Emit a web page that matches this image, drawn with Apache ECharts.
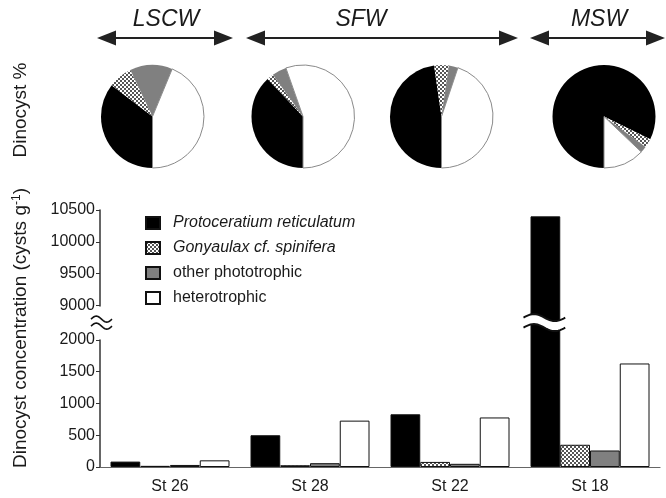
<!DOCTYPE html>
<html><head><meta charset="utf-8">
<script src="https://cdn.jsdelivr.net/npm/echarts@6/dist/echarts.min.js"></script>
<style>html,body{margin:0;padding:0;background:#fff}#c{width:666px;height:498px}</style>
</head><body><div id="c"></div>
<script>
// ---- data ----
const stations = ['St 26', 'St 28', 'St 22', 'St 18'];
const seriesNames = ['Protoceratium reticulatum', 'Gonyaulax cf. spinifera', 'other phototrophic', 'heterotrophic'];
const protoceratium = [85, 500, 830, 10400];
const gonyaulax = [18, 28, 80, 350];
const otherPhototrophic = [32, 60, 50, 260];
const heterotrophic = [105, 730, 780, 1630];
const waterMasses = ['LSCW', 'SFW', 'MSW'];
const axisBreak = [2000, 9000];
const yMax = 10500;
const yStep = 500;

// ---- styles / layout ----
const FONT = "'Liberation Sans', Arial, sans-serif";
const TXT = '#1a1a1a';
function checker() {
  const c = document.createElement('canvas');
  c.width = 4; c.height = 4;
  const g = c.getContext('2d');
  g.fillStyle = '#fff'; g.fillRect(0, 0, 4, 4);
  g.fillStyle = '#555'; g.fillRect(0, 0, 2, 2); g.fillRect(2, 2, 2, 2);
  return c;
}
const pat = { image: checker(), repeat: 'repeat' };
const fills = ['#000', pat, '#808080', '#fff'];
const values = [protoceratium, gonyaulax, otherPhototrophic, heterotrophic];
const pieCenters = [152.5, 303, 441.5, 604];
const pieY = 116.5, pieR = 51.5;
const massLayout = [
  { text: 166, x1: 97, x2: 233 },
  { text: 361, x1: 246, x2: 518 },
  { text: 599, x1: 530, x2: 665 }
];

const chart = echarts.init(document.getElementById('c'), null, { renderer: 'canvas' });

const barSeries = seriesNames.map((n, k) => ({
  type: 'bar', name: n, data: values[k],
  barGap: '0%', barCategoryGap: '15%',
  itemStyle: { color: fills[k], borderColor: '#111', borderWidth: 1 },
  silent: true, z: 2
}));

const pieSeries = stations.map((s, i) => ({
  type: 'pie', center: [pieCenters[i], pieY], radius: pieR,
  startAngle: -90, clockwise: true, silent: true, label: { show: false },
  labelLine: { show: false }, legendHoverLink: false,
  data: seriesNames.map((n, k) => ({
    name: n, value: values[k][i],
    itemStyle: { color: fills[k], borderColor: k === 3 ? '#8a8a8a' : 'transparent', borderWidth: k === 3 ? 1 : 0 }
  }))
}));

const graphics = [];
waterMasses.forEach((m, i) => {
  const L = massLayout[i], y = 38;
  graphics.push({ type: 'text', x: L.text, y: 20, style: { text: m, font: 'italic 23px ' + FONT, fill: TXT, align: 'center', verticalAlign: 'middle' } });
  graphics.push({ type: 'line', shape: { x1: L.x1 + 10, y1: y, x2: L.x2 - 10, y2: y }, style: { stroke: '#222', lineWidth: 2 } });
  graphics.push({ type: 'polygon', shape: { points: [[L.x1, y], [L.x1 + 19, y - 7.5], [L.x1 + 19, y + 7.5]] }, style: { fill: '#222' } });
  graphics.push({ type: 'polygon', shape: { points: [[L.x2, y], [L.x2 - 19, y - 7.5], [L.x2 - 19, y + 7.5]] }, style: { fill: '#222' } });
});
graphics.push({ type: 'text', x: 21, y: 110, rotation: Math.PI / 2,
  style: { text: 'Dinocyst %', font: '19px ' + FONT, fill: TXT, align: 'center', verticalAlign: 'middle' } });
graphics.push({ type: 'text', x: 21, y: 328, rotation: Math.PI / 2,
  style: { text: '{a|Dinocyst concentration (cysts g}{s|-1}{a|)}', align: 'center', verticalAlign: 'middle',
    rich: { a: { font: '19px ' + FONT, fill: TXT, lineHeight: 22 }, s: { font: '12px ' + FONT, fill: TXT, padding: [0, 0, 8, 0], lineHeight: 22 } } } });

chart.setOption({
  animation: false,
  backgroundColor: '#fff',
  textStyle: { fontFamily: FONT },
  grid: { left: 100, right: 6, top: 210, bottom: 31, containLabel: false },
  legend: {
    orient: 'vertical', left: 145, top: 215, padding: 0, itemWidth: 14, itemHeight: 12, itemGap: 9,
    icon: 'rect', selectedMode: false, data: seriesNames,
    formatter: n => n.startsWith('Proto') || n.startsWith('Gony') ? '{i|' + n + '}' : '{r|' + n + '}',
    textStyle: { fontSize: 16, color: TXT, padding: [0, 0, 0, 8], lineHeight: 16,
      rich: { i: { fontStyle: 'italic', fontSize: 16, color: TXT, fontFamily: FONT }, r: { fontSize: 16, color: TXT, fontFamily: FONT } } }
  },
  xAxis: {
    type: 'category', data: stations,
    axisLine: { lineStyle: { color: '#666', width: 1.2 } },
    axisTick: { show: false },
    axisLabel: { fontSize: 16, color: TXT, margin: 12 }
  },
  yAxis: {
    type: 'value', min: 0, max: yMax, interval: yStep,
    breaks: [{ start: axisBreak[0], end: axisBreak[1], gap: '13.5%' }],
    breakArea: { show: false },
    splitLine: { show: false },
    axisLine: { show: true, lineStyle: { color: '#333', width: 1.5 } },
    axisTick: { show: true, length: 4, lineStyle: { color: '#333' } },
    axisLabel: { fontSize: 16, color: TXT, margin: 5, formatter: v => String(v) }
  },
  graphic: graphics,
  series: [...barSeries, ...pieSeries]
});

// break markers drawn at the axis break position (sampled sine waves)
function wavePts(x0, x1, y, a) {
  const pts = [];
  const n = 24;
  for (let j = 0; j <= n; j++) {
    const t = j / n;
    pts.push([x0 + (x1 - x0) * t, y - a * Math.sin(2 * Math.PI * t)]);
  }
  return pts;
}
function breakMark(x0, x1, yc, sep, a, lw) {
  const top = wavePts(x0, x1, yc - sep / 2, a);
  const bot = wavePts(x0, x1, yc + sep / 2, a);
  return [
    { type: 'polygon', shape: { points: top.concat(bot.slice().reverse()) }, style: { fill: '#fff', stroke: null }, z: 50 },
    { type: 'polyline', shape: { points: top }, style: { fill: null, stroke: '#111', lineWidth: lw }, z: 51 },
    { type: 'polyline', shape: { points: bot }, style: { fill: null, stroke: '#111', lineWidth: lw }, z: 51 }
  ];
}
const yA = chart.convertToPixel({ yAxisIndex: 0 }, axisBreak[0]);
const yB = chart.convertToPixel({ yAxisIndex: 0 }, axisBreak[1]);
const yMid = (yA + yB) / 2;
const c0 = chart.convertToPixel({ xAxisIndex: 0 }, 0);
const c1 = chart.convertToPixel({ xAxisIndex: 0 }, 1);
const c3 = chart.convertToPixel({ xAxisIndex: 0 }, 3);
const band = c1 - c0;
let bx, bw;
try {
  const lay = chart.getModel().getSeriesByIndex(0).getData().getItemLayout(3);
  bx = lay.x; bw = lay.width;
} catch (e) {
  bw = band * 0.85 / 4; bx = c3 - 2 * bw;
}
const axisX = c0 - band / 2;
const extra = [
  ...breakMark(bx - 7, bx + bw + 5, yMid, 10, 3.5, 2),
  ...breakMark(axisX - 9, axisX + 12, yMid, 7, 3, 1.6)
];
chart.setOption({ graphic: graphics.concat(extra) });
</script></body></html>
